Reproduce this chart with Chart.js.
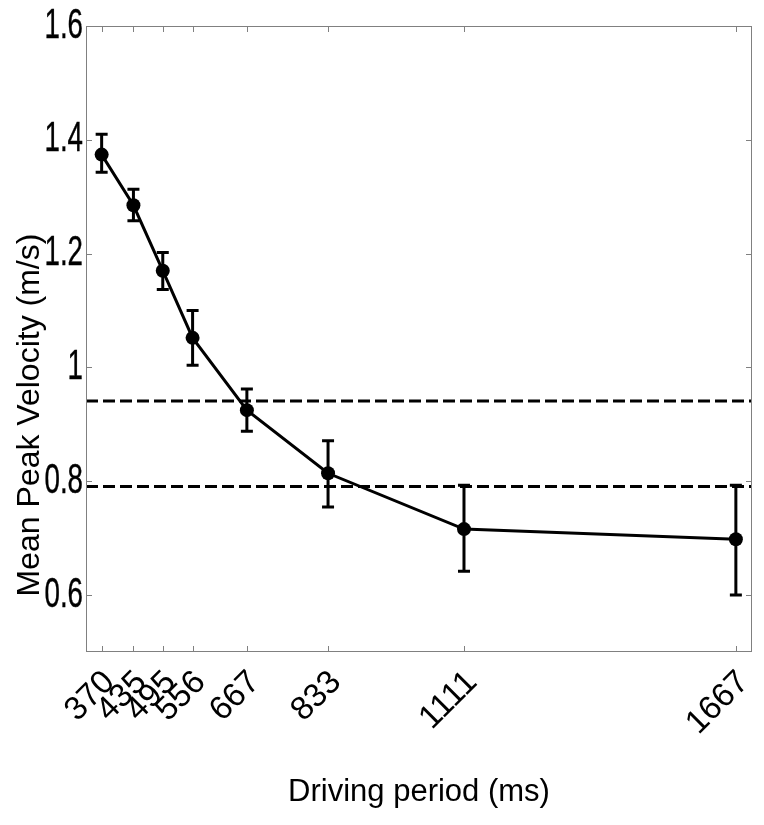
<!DOCTYPE html>
<html>
<head>
<meta charset="utf-8">
<title>Mean peak velocity vs driving period</title>
<script src="https://cdn.jsdelivr.net/npm/chart.js@4/dist/chart.umd.min.js"></script>
<style>
  html, body { margin: 0; padding: 0; background: #fff; }
  #wrap { width: 764px; height: 825px; position: relative; }
</style>
</head>
<body>
<div id="wrap"><canvas id="chart"></canvas></div>
<script>
'use strict';

// ── Data ──────────────────────────────────────────────────────
const periods    = [370, 435, 495, 556, 667, 833, 1111, 1667];
const meanVel    = [1.374, 1.285, 1.170, 1.052, 0.925, 0.814, 0.716, 0.698];
const errHigh    = [1.410, 1.313, 1.202, 1.100, 0.962, 0.871, 0.793, 0.793];
const errLow     = [1.343, 1.258, 1.137, 1.004, 0.888, 0.755, 0.642, 0.600];
const refLevels  = [0.941, 0.791];
const xTicks     = periods;
const yTicks     = [0.6, 0.8, 1, 1.2, 1.4, 1.6];
const xRange     = [338, 1700];
const yRange     = [0.5, 1.6];

const AXIS_CLR  = '#808080';
const FONT_FAM  = "'Liberation Sans', Arial, sans-serif";

// y tick labels are tall and narrow in the original, x ones are plain
function drawText(ctx, text, x, y, angle, align, squeeze, weight) {
  ctx.save();
  ctx.translate(x, y);
  ctx.rotate(angle);
  ctx.scale(squeeze, 1);
  ctx.textAlign = align;
  ctx.textBaseline = 'middle';
  ctx.fillText(text, 0, 0);
  if (weight) {
    ctx.lineWidth = weight;
    ctx.strokeStyle = '#000';
    ctx.strokeText(text, 0, 0);
  }
  ctx.restore();
}

// ── Box, inward ticks, error bars, labels ─────────────────────
const framePlugin = {
  id: 'frame',
  afterDatasetsDraw(chart) {
    const { ctx, chartArea: a, scales: { x, y } } = chart;
    ctx.save();

    // error bars
    ctx.strokeStyle = '#000';
    ctx.lineWidth = 3;
    periods.forEach((p, i) => {
      const px = x.getPixelForValue(p);
      const top = y.getPixelForValue(errHigh[i]);
      const bot = y.getPixelForValue(errLow[i]);
      ctx.beginPath();
      ctx.moveTo(px, top); ctx.lineTo(px, bot);
      ctx.moveTo(px - 6, top); ctx.lineTo(px + 6, top);
      ctx.moveTo(px - 6, bot); ctx.lineTo(px + 6, bot);
      ctx.stroke();
    });

    // axes box
    ctx.strokeStyle = AXIS_CLR;
    ctx.lineWidth = 1;
    ctx.strokeRect(a.left + 0.5, a.top + 0.5, a.right - a.left - 1, a.bottom - a.top - 1);

    // inward ticks
    ctx.beginPath();
    x.ticks.forEach(t => {
      const px = Math.round(x.getPixelForValue(t.value)) + 0.5;
      ctx.moveTo(px, a.bottom); ctx.lineTo(px, a.bottom - 6);
      ctx.moveTo(px, a.top);    ctx.lineTo(px, a.top + 6);
    });
    y.ticks.forEach(t => {
      const py = Math.round(y.getPixelForValue(t.value)) + 0.5;
      ctx.moveTo(a.left, py);  ctx.lineTo(a.left + 6, py);
      ctx.moveTo(a.right, py); ctx.lineTo(a.right - 6, py);
    });
    ctx.stroke();

    // tick labels
    ctx.fillStyle = '#000';
    ctx.font = '42px ' + FONT_FAM;
    y.ticks.forEach(t => {
      drawText(ctx, String(t.value), a.left - 3, y.getPixelForValue(t.value), 0, 'right', 0.66, 0.4);
    });
    ctx.font = '33px ' + FONT_FAM;
    x.ticks.forEach(t => {
      drawText(ctx, String(t.value), x.getPixelForValue(t.value) + 8, a.bottom + 25, -Math.PI / 4, 'right', 1, 0);
    });

    // y axis title
    ctx.font = '32px ' + FONT_FAM;
    ctx.textAlign = 'center';
    ctx.textBaseline = 'middle';
    ctx.translate(30, 415);
    ctx.rotate(-Math.PI / 2);
    ctx.fillText('Mean Peak Velocity (m/s)', 0, 0);
    ctx.restore();
  }
};

// ── Datasets ──────────────────────────────────────────────────
const mainSeries = {
  label: 'Mean peak velocity',
  data: periods.map((p, i) => ({ x: p, y: meanVel[i] })),
  borderColor: '#000',
  backgroundColor: '#000',
  borderWidth: 3,
  pointRadius: 7,
  pointBackgroundColor: '#000',
  pointBorderWidth: 0,
  tension: 0,
  order: 1,
};

const refSeries = refLevels.map((lvl, i) => ({
  label: 'Reference ' + (i + 1),
  data: xRange.map(xv => ({ x: xv, y: lvl })),
  borderColor: '#000',
  borderWidth: 3,
  borderDash: [12, 5],
  pointRadius: 0,
  tension: 0,
  order: 2,
}));

new Chart(document.getElementById('chart'), {
  type: 'line',
  data: { datasets: [mainSeries, ...refSeries] },
  plugins: [framePlugin],
  options: {
    responsive: true,
    maintainAspectRatio: false,
    animation: false,
    layout: { padding: { top: 26, right: 12, left: 0, bottom: 0 } },
    plugins: {
      legend: { display: false },
      tooltip: { enabled: false },
    },
    scales: {
      x: {
        type: 'linear',
        min: xRange[0],
        max: xRange[1],
        afterBuildTicks: s => { s.ticks = xTicks.map(v => ({ value: v })); },
        afterFit: s => { s.height = 173; s.paddingLeft = 0; s.paddingRight = 0; },
        grid: { display: false, drawTicks: false },
        border: { display: false },
        ticks: { display: false },
        title: {
          display: true,
          text: 'Driving period (ms)',
          color: '#000',
          font: { family: FONT_FAM, size: 31 },
          padding: { top: 0, bottom: 14 },
        },
      },
      y: {
        min: yRange[0],
        max: yRange[1],
        afterBuildTicks: s => { s.ticks = yTicks.map(v => ({ value: v })); },
        afterFit: s => { s.width = 86; },
        grid: { display: false, drawTicks: false },
        border: { display: false },
        ticks: { display: false },
      },
    },
  },
});
</script>
</body>
</html>
